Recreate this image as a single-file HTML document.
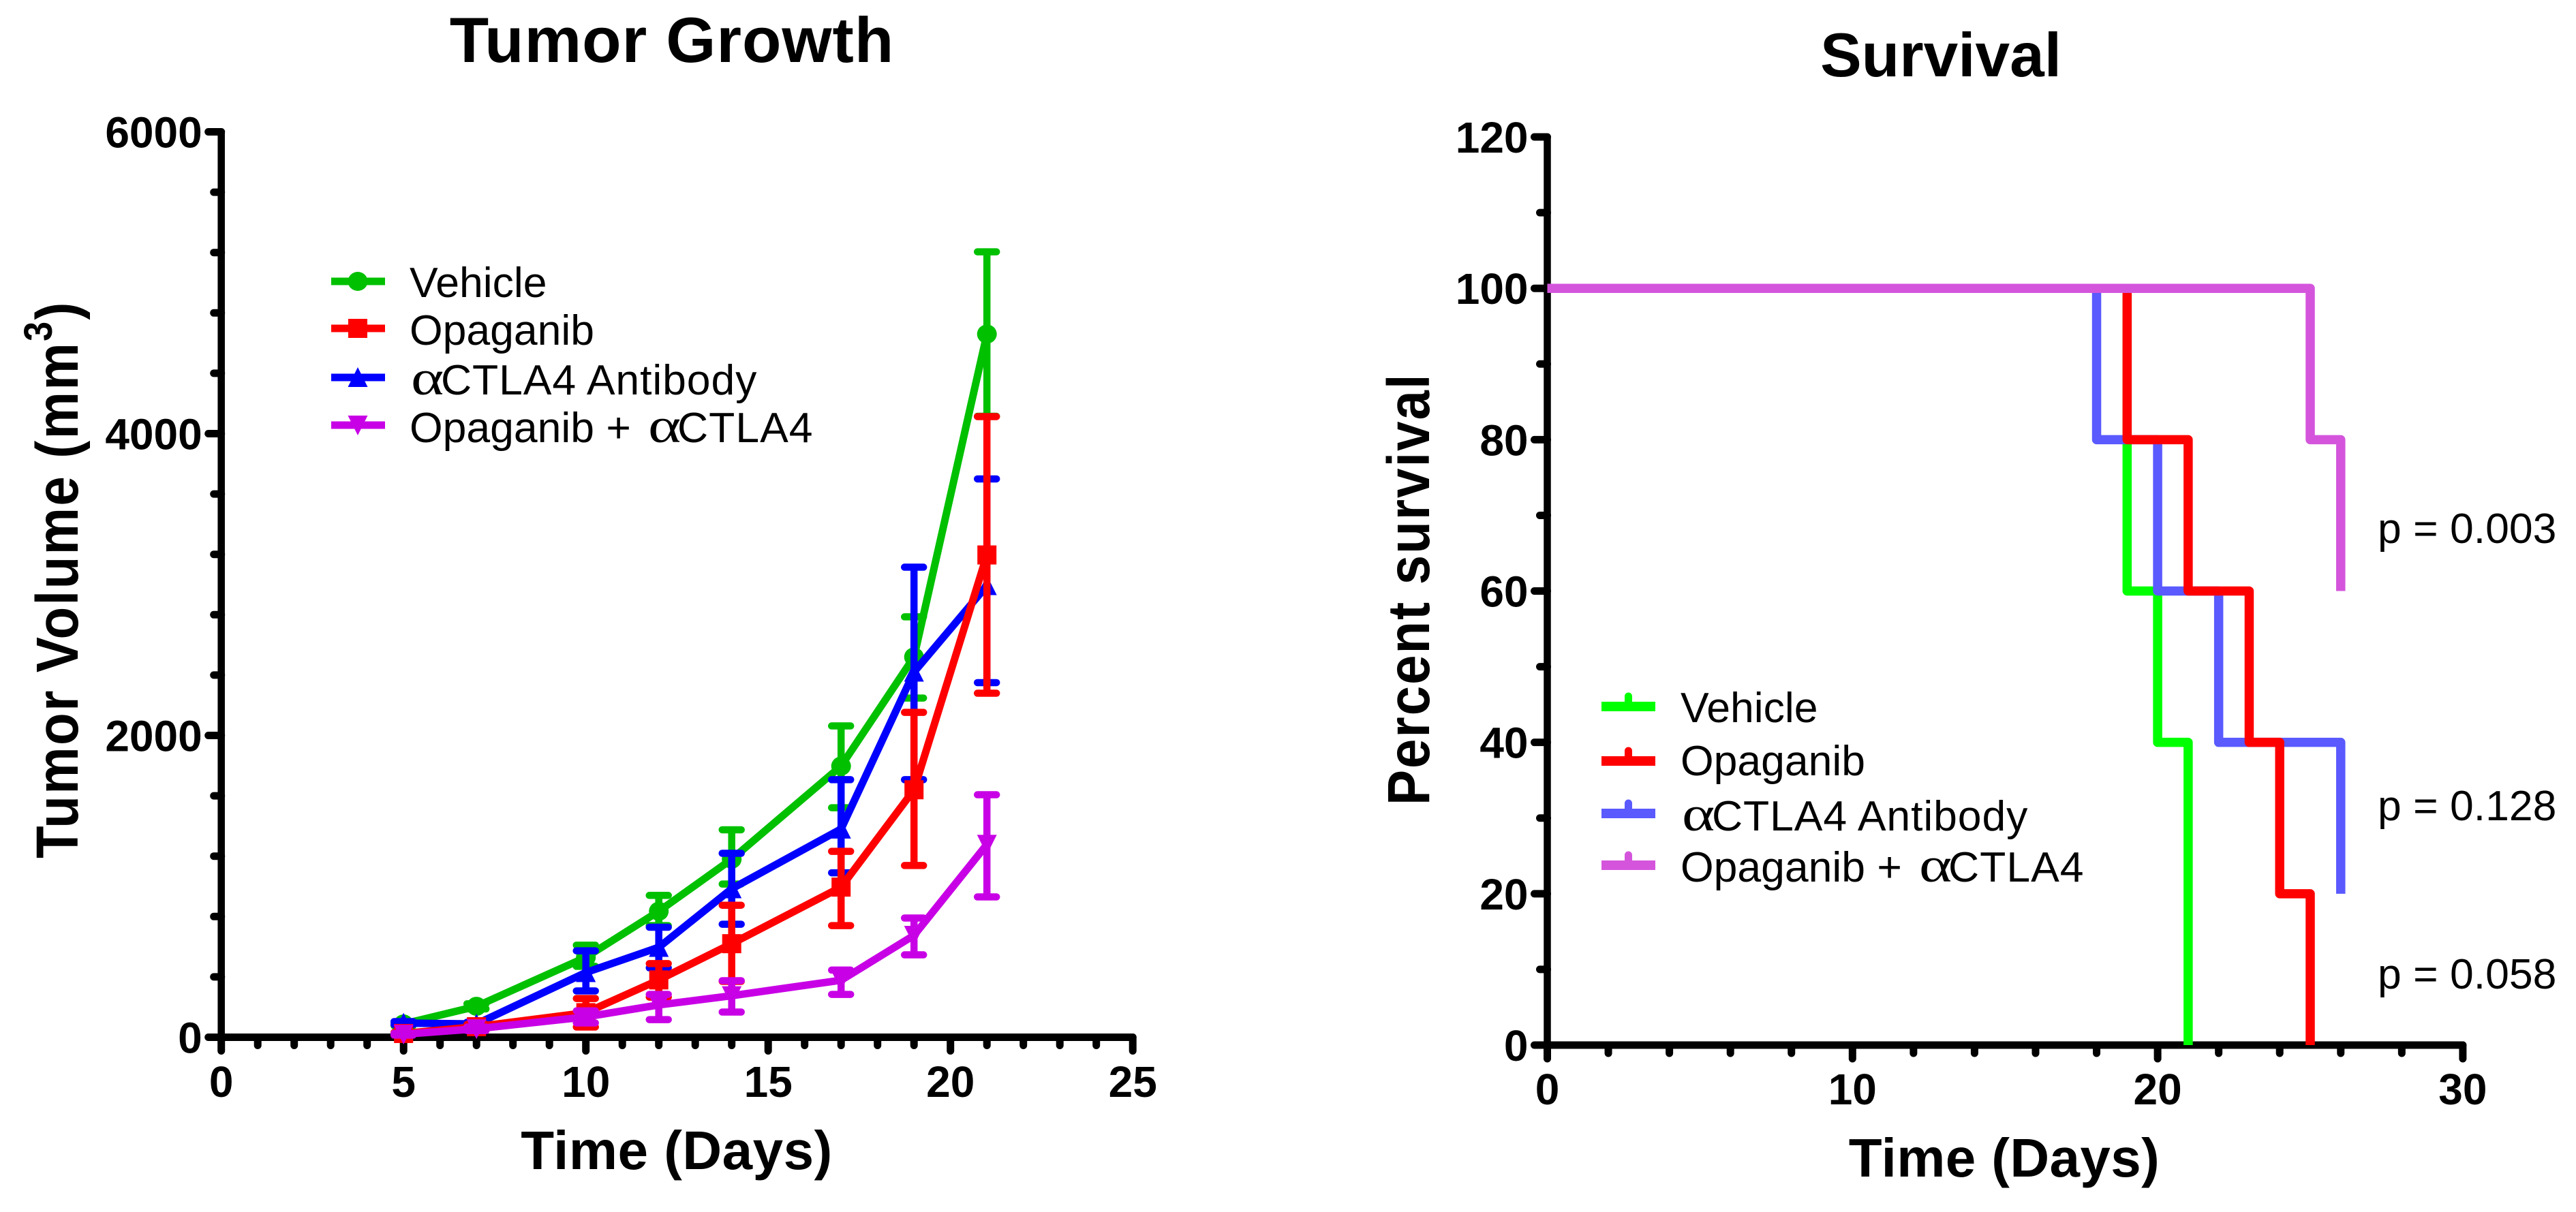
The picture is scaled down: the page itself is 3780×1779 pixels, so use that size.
<!DOCTYPE html>
<html lang="en">
<head>
<meta charset="utf-8">
<title>Tumor Growth and Survival</title>
<style>
html,body{margin:0;padding:0;background:#fff;width:3780px;height:1779px;overflow:hidden}
svg{display:block}
text{font-family:"Liberation Sans",Arial,sans-serif;fill:#000}
.b{font-weight:700}
.a{font-family:"Liberation Serif","DejaVu Serif",serif;font-size:72px}
</style>
</head>
<body>
<svg id="fig" xmlns="http://www.w3.org/2000/svg" width="3780" height="1779" viewBox="0 0 3780 1779">
  <rect x="0" y="0" width="3780" height="1779" fill="#fff"/>
  <g id="growth">
    <text class="b" x="986" y="91" font-size="94" letter-spacing="1" text-anchor="middle">Tumor Growth</text>
    <text class="b" x="0" y="0" font-size="78" letter-spacing="2.4" transform="translate(114 1260) rotate(-90) scale(1 1.115)">Tumor Volume (mm<tspan dy="-34" font-size="52">3</tspan><tspan dy="34">)</tspan></text>
    <text class="b" x="993" y="1716" font-size="80" letter-spacing="0.5" text-anchor="middle">Time (Days)</text>
    <g id="growthAxes"></g>
    <g id="growthSeries"></g>
    <g id="growthLegend">
      <text x="601" y="436" font-size="62.5">Vehicle</text>
      <text x="601" y="506" font-size="62.5">Opaganib</text>
      <text class="a" transform="translate(603 579) scale(1.28 1)">α</text>
      <text x="647" y="579" font-size="62.5" letter-spacing="0.9">CTLA4 Antibody</text>
      <text x="601" y="649" font-size="62.5">Opaganib +</text>
      <text class="a" transform="translate(951 649) scale(1.28 1)">α</text>
      <text x="994" y="649" font-size="62.5" letter-spacing="1">CTLA4</text>
    </g>
  </g>
  <g id="survival">
    <text class="b" x="2848" y="112" font-size="91" text-anchor="middle">Survival</text>
    <text class="b" x="0" y="0" font-size="78" letter-spacing="2" transform="translate(2097 1182) rotate(-90) scale(1 1.12)">Percent survival</text>
    <text class="b" x="2941" y="1727" font-size="80" letter-spacing="0.4" text-anchor="middle">Time (Days)</text>
    <g id="survAxes"></g>
    <g id="survSeries"></g>
    <g id="survLegend">
      <text x="2466" y="1060" font-size="62.5">Vehicle</text>
      <text x="2466" y="1138" font-size="62.5">Opaganib</text>
      <text class="a" transform="translate(2468 1219) scale(1.28 1)">α</text>
      <text x="2512" y="1219" font-size="62.5" letter-spacing="0.9">CTLA4 Antibody</text>
      <text x="2466" y="1294" font-size="62.5">Opaganib +</text>
      <text class="a" transform="translate(2816 1294) scale(1.28 1)">α</text>
      <text x="2859" y="1294" font-size="62.5" letter-spacing="1">CTLA4</text>
    </g>
    <text x="3489" y="797" font-size="62.5">p = 0.003</text>
    <text x="3489" y="1204" font-size="62.5">p = 0.128</text>
    <text x="3489" y="1451" font-size="62.5">p = 0.058</text>
  </g>
</svg>
<script>
// Tumor growth data (mean, upper and lower error caps in mm3)
var growthDays = [5, 7, 10, 12, 14, 17, 19, 21];
var vehicleMean = [88, 205, 530, 835, 1180, 1797, 2520, 4660];
var vehicleUpper = [100, 222, 610, 940, 1375, 2063, 2786, 5205];
var vehicleLower = [76, 188, 470, 740, 1015, 1521, 2248, 4115];
var opaganibMean = [25, 70, 163, 380, 620, 995, 1640, 3196];
var opaganibUpper = [32, 85, 257, 488, 875, 1232, 2153, 4113];
var opaganibLower = [18, 55, 68, 266, 370, 740, 1138, 2280];
var antibodyMean = [94, 88, 429, 596, 984, 1380, 2420, 2993];
var antibodyUpper = [104, 100, 573, 729, 1219, 1707, 3115, 3700];
var antibodyLower = [84, 76, 307, 460, 749, 1090, 1707, 2350];
var comboMean = [20, 56, 135, 214, 275, 378, 675, 1278];
var comboUpper = [26, 68, 175, 284, 375, 445, 790, 1607];
var comboLower = [14, 44, 95, 117, 167, 284, 546, 930];
var growthXTicks = [0, 5, 10, 15, 20, 25];
var growthYTicks = [0, 2000, 4000, 6000];

// Survival data (step change times and percent surviving)
var vehicleTimes = [0, 19, 20, 21];
var vehicleSurvival = [100, 60, 40, 0];
var opaganibTimes = [0, 19, 21, 23, 24, 25];
var opaganibSurvival = [100, 80, 60, 40, 20, 0];
var antibodyTimes = [0, 18, 20, 22, 26];
var antibodySurvival = [100, 80, 60, 40, 20];
var comboTimes = [0, 25, 26];
var comboSurvival = [100, 80, 60];
var survXTicks = [0, 10, 20, 30];
var survYTicks = [0, 20, 40, 60, 80, 100, 120];

var NS = 'http://www.w3.org/2000/svg';
function make(tag, attrs, parent) {
  var n = document.createElementNS(NS, tag);
  for (var k in attrs) n.setAttribute(k, attrs[k]);
  parent.appendChild(n);
  return n;
}
function gx(v) { return 324.7 + v * 53.5; }
function gy(v) { return 1522.5 - v * 0.2215; }
function sx(v) { return 2270.5 + v * 44.78; }
function sy(v) { return 1534 - v * 11.108; }

function drawAxes(parent, prefix, xf, yf, xTicks, yTicks, xMinorStep, yMinorCount, xLabelY) {
  var xMax = xTicks[xTicks.length - 1], yMax = yTicks[yTicks.length - 1];
  function seg(x1, y1, x2, y2, w) {
    return make('line', { x1: x1, y1: y1, x2: x2, y2: y2, stroke: '#000', 'stroke-width': w, 'stroke-linecap': 'round' }, parent);
  }
  var i, j, t;
  var xLine = seg(xf(0), yf(0), xf(xMax), yf(0), 11);
  
  
  var yLine = seg(xf(0), yf(0), xf(0), yf(yMax), 10.5);
  
  
  for (t = 0; t <= xMax + 1e-6; t += xMinorStep) {
    var isMajor = xTicks.indexOf(t) >= 0;
    var xt = seg(xf(t), yf(0), xf(t), yf(0) + (isMajor ? 20 : 12), 11);
    
    
  }
  for (i = 0; i < yTicks.length; i++) {
    var ymaj = seg(xf(0), yf(yTicks[i]), xf(0) - 19, yf(yTicks[i]), 11);
    
    
    var yl = make('text', { x: xf(0) - 28, y: yf(yTicks[i]) + 23, 'font-size': 64, 'font-weight': 700, 'text-anchor': 'end' }, parent);
    yl.textContent = String(yTicks[i]);
    
    
    if (i < yTicks.length - 1) {
      var step = (yTicks[i + 1] - yTicks[i]) / yMinorCount;
      for (j = 1; j < yMinorCount; j++) {
        var ymin = seg(xf(0), yf(yTicks[i] + j * step), xf(0) - 11, yf(yTicks[i] + j * step), 11);
        
        
      }
    }
  }
  for (i = 0; i < xTicks.length; i++) {
    var xl = make('text', { x: xf(xTicks[i]), y: xLabelY, 'font-size': 64, 'font-weight': 700, 'text-anchor': 'middle' }, parent);
    xl.textContent = String(xTicks[i]);
    
    
  }
}

function marker(parent, kind, x, y, color) {
  var m;
  if (kind === 'circle') m = make('ellipse', { cx: x, cy: y, rx: 14.5, ry: 14, fill: color }, parent);
  else if (kind === 'square') m = make('rect', { x: x - 14, y: y - 14, width: 28, height: 28, fill: color }, parent);
  else if (kind === 'up') m = make('polygon', { points: (x - 14.5) + ',' + (y + 14) + ' ' + x + ',' + (y - 15) + ' ' + (x + 14.5) + ',' + (y + 14), fill: color }, parent);
  else m = make('polygon', { points: (x - 14.5) + ',' + (y - 14) + ' ' + x + ',' + (y + 15) + ' ' + (x + 14.5) + ',' + (y - 14), fill: color }, parent);
  return m;
}

function drawGrowth(parent, name, means, upper, lower, color, kind) {
  var g = make('g', {}, parent);
  
  
  var i, x;
  for (i = 0; i < growthDays.length; i++) {
    x = gx(growthDays[i]);
    var stem = make('line', { x1: x, x2: x, y1: gy(upper[i]), y2: gy(lower[i]), stroke: color, 'stroke-width': 10.5 }, g);
    
    
    var capU = make('line', { x1: x - 14, x2: x + 14, y1: gy(upper[i]), y2: gy(upper[i]), stroke: color, 'stroke-width': 10.5, 'stroke-linecap': 'round' }, g);
    
    
    var capL = make('line', { x1: x - 14, x2: x + 14, y1: gy(lower[i]), y2: gy(lower[i]), stroke: color, 'stroke-width': 10.5, 'stroke-linecap': 'round' }, g);
    
    
  }
  var pts = [];
  for (i = 0; i < growthDays.length; i++) pts.push(gx(growthDays[i]) + ',' + gy(means[i]));
  var line = make('polyline', { points: pts.join(' '), fill: 'none', stroke: color, 'stroke-width': 11, 'stroke-linejoin': 'round' }, g);
  
  
  for (i = 0; i < growthDays.length; i++) {
    var pt = marker(g, kind, gx(growthDays[i]), gy(means[i]), color);
    
    
  }
}

function drawSurvival(parent, name, times, values, color) {
  var d = 'M' + sx(times[0]) + ' ' + sy(values[0]);
  for (var i = 1; i < times.length; i++) {
    d += ' L' + sx(times[i]) + ' ' + sy(values[i - 1]) + ' L' + sx(times[i]) + ' ' + sy(values[i]);
  }
  var p = make('path', { d: d, fill: 'none', stroke: color, 'stroke-width': 13.5, 'stroke-linejoin': 'round' }, parent);
  
  
}

function legendGrowth(parent, name, y, color, kind) {
  var r = make('rect', { x: 486, y: y - 5.5, width: 79, height: 11, fill: color }, parent);
  
  
  var m = marker(parent, kind, 525, y, color);
  
  
}

function legendSurvival(parent, name, y, color) {
  var r = make('rect', { x: 2350, y: y - 7, width: 79, height: 14, fill: color }, parent);
  
  
  var s = make('line', { x1: 2389.5, x2: 2389.5, y1: y - 15, y2: y, stroke: color, 'stroke-width': 11, 'stroke-linecap': 'round' }, parent);
  
  
}

drawAxes(document.getElementById('growthAxes'), '', gx, gy, growthXTicks, growthYTicks, 1, 5, 1610);
var gs = document.getElementById('growthSeries');
drawGrowth(gs, 'vehicle', vehicleMean, vehicleUpper, vehicleLower, '#00c000', 'circle');
drawGrowth(gs, 'actla4', antibodyMean, antibodyUpper, antibodyLower, '#0000ff', 'up');
drawGrowth(gs, 'opaganib', opaganibMean, opaganibUpper, opaganibLower, '#ff0000', 'square');
drawGrowth(gs, 'combo', comboMean, comboUpper, comboLower, '#c800e6', 'down');
var gl = document.getElementById('growthLegend');
legendGrowth(gl, 'vehicle', 413, '#00c000', 'circle');
legendGrowth(gl, 'opaganib', 482, '#ff0000', 'square');
legendGrowth(gl, 'actla4', 554, '#0000ff', 'up');
legendGrowth(gl, 'combo', 624, '#c800e6', 'down');

drawAxes(document.getElementById('survAxes'), 'survival-', sx, sy, survXTicks, survYTicks, 2, 2, 1621);
var ss = document.getElementById('survSeries');
drawSurvival(ss, 'vehicle', vehicleTimes, vehicleSurvival, '#00ff00');
drawSurvival(ss, 'actla4', antibodyTimes, antibodySurvival, '#5a5aff');
drawSurvival(ss, 'opaganib', opaganibTimes, opaganibSurvival, '#ff0000');
drawSurvival(ss, 'combo', comboTimes, comboSurvival, '#d455dc');
var sl = document.getElementById('survLegend');
legendSurvival(sl, 'vehicle', 1037, '#00ff00');
legendSurvival(sl, 'opaganib', 1117, '#ff0000');
legendSurvival(sl, 'actla4', 1194, '#5a5aff');
legendSurvival(sl, 'combo', 1270, '#d455dc');
</script>
</body>
</html>
